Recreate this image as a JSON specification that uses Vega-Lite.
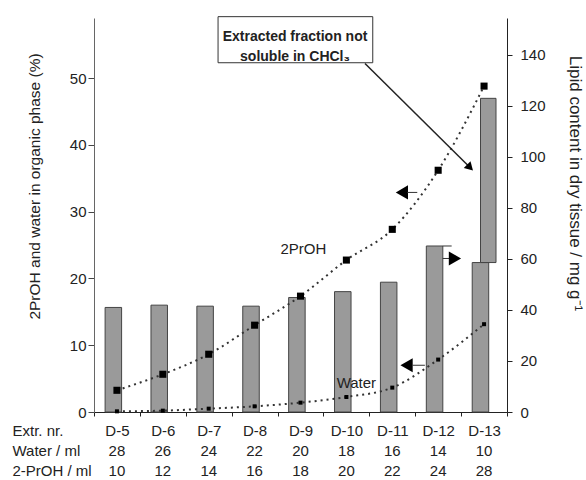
{
  "$schema": "https://vega.github.io/schema/vega-lite/v6.json",
  "width": 413,
  "height": 394,
  "autosize": {"type": "none"},
  "padding": {"left": 94, "top": 18, "right": 79, "bottom": 68},
  "config": {
    "font": "Liberation Sans",
    "view": {"stroke": null},
    "axis": {"grid": false, "labelColor": "#222", "titleColor": "#222", "labelFont": "Liberation Sans", "titleFont": "Liberation Sans"}
  },
  "data": {
    "values": [
      {"ext": "D-5", "water_ml": 28, "proh_ml": 10, "lipid": 41.0, "lipid_total": null, "proh_pct": 3.25, "water_pct": 0.1},
      {"ext": "D-6", "water_ml": 26, "proh_ml": 12, "lipid": 41.9, "lipid_total": null, "proh_pct": 5.65, "water_pct": 0.2},
      {"ext": "D-7", "water_ml": 24, "proh_ml": 14, "lipid": 41.5, "lipid_total": null, "proh_pct": 8.65, "water_pct": 0.5},
      {"ext": "D-8", "water_ml": 22, "proh_ml": 16, "lipid": 41.5, "lipid_total": null, "proh_pct": 13.0, "water_pct": 0.85},
      {"ext": "D-9", "water_ml": 20, "proh_ml": 18, "lipid": 44.9, "lipid_total": null, "proh_pct": 17.35, "water_pct": 1.4},
      {"ext": "D-10", "water_ml": 18, "proh_ml": 20, "lipid": 47.2, "lipid_total": null, "proh_pct": 22.75, "water_pct": 2.25},
      {"ext": "D-11", "water_ml": 16, "proh_ml": 22, "lipid": 50.9, "lipid_total": null, "proh_pct": 27.35, "water_pct": 3.65},
      {"ext": "D-12", "water_ml": 14, "proh_ml": 24, "lipid": 65.1, "lipid_total": null, "proh_pct": 36.2, "water_pct": 7.85},
      {"ext": "D-13", "water_ml": 10, "proh_ml": 28, "lipid": 58.6, "lipid_total": 123.0, "proh_pct": 48.8, "water_pct": 13.15}
    ]
  },
  "layer": [
    {
      "mark": {"type": "bar", "width": 16.5, "xOffset": -3.6, "fill": "#9a9a9a", "stroke": "#444", "strokeWidth": 1},
      "encoding": {
        "x": {
          "field": "ext", "type": "nominal", "sort": null,
          "scale": {"type": "band", "paddingInner": 0, "paddingOuter": 0, "domain": ["D-5", "D-6", "D-7", "D-8", "D-9", "D-10", "D-11", "D-12", "D-13"]},
          "axis": {
            "orient": "bottom",
            "title": "Extr. nr.", "titleX": -82, "titleY": 18, "titleAlign": "left", "titleBaseline": "middle",
            "titleAngle": 0, "titleFontWeight": "normal", "titleFontSize": 15,
            "labelAngle": 0, "labelBaseline": "middle", "labelPadding": 14, "labelFontSize": 15,
            "tickSize": 4, "tickBand": "extent", "domainColor": "#222", "tickColor": "#222"
          }
        },
        "y": {
          "field": "lipid", "type": "quantitative",
          "scale": {"domain": [0, 154.5], "nice": false},
          "axis": {
            "orient": "right", "values": [0, 20, 40, 60, 80, 100, 120, 140],
            "title": "Lipid content in dry tissue / mg g⁻¹", "titleFontSize": 17, "titleFontWeight": "normal",
            "titleX": 67, "titleY": 165, "titleAngle": 90, "titleAlign": "center", "titleBaseline": "middle",
            "labelFontSize": 15, "labelPadding": 8, "tickSize": 5, "domainColor": "#222", "tickColor": "#222"
          }
        }
      }
    },
    {
      "transform": [{"filter": "datum.lipid_total != null"}],
      "mark": {"type": "bar", "width": 15.5, "xOffset": 4.2, "fill": "#9a9a9a", "stroke": "#444", "strokeWidth": 1},
      "encoding": {
        "x": {"field": "ext", "type": "nominal", "sort": null, "axis": null, "scale": {"type": "band", "paddingInner": 0, "paddingOuter": 0, "domain": ["D-5", "D-6", "D-7", "D-8", "D-9", "D-10", "D-11", "D-12", "D-13"]}},
        "y": {"field": "lipid", "type": "quantitative", "scale": {"domain": [0, 154.5], "nice": false}, "axis": null},
        "y2": {"field": "lipid_total"}
      }
    },
    {
      "data": {"values": [{}]},
      "mark": {"type": "rule", "xOffset": 4.5, "x2Offset": 13.5, "stroke": "#333", "strokeWidth": 1},
      "encoding": {
        "x": {"datum": "D-12", "axis": null, "scale": {"type": "band", "paddingInner": 0, "paddingOuter": 0, "domain": ["D-5", "D-6", "D-7", "D-8", "D-9", "D-10", "D-11", "D-12", "D-13"]}},
        "x2": {"datum": "D-12"},
        "y": {"datum": 65.1, "type": "quantitative", "scale": {"domain": [0, 154.5], "nice": false}, "axis": null}
      }
    },
    {
      "data": {"values": [{}]},
      "mark": {"type": "rule", "xOffset": 4.5, "x2Offset": 11, "stroke": "#333", "strokeWidth": 1},
      "encoding": {
        "x": {"datum": "D-12", "axis": null, "scale": {"type": "band", "paddingInner": 0, "paddingOuter": 0, "domain": ["D-5", "D-6", "D-7", "D-8", "D-9", "D-10", "D-11", "D-12", "D-13"]}},
        "x2": {"datum": "D-12"},
        "y": {"datum": 60.2, "type": "quantitative", "scale": {"domain": [0, 154.5], "nice": false}, "axis": null}
      }
    },
    {
      "data": {"values": [{}]},
      "mark": {"type": "point", "shape": "triangle-right", "filled": true, "size": 200, "xOffset": 16.8, "color": "#000", "opacity": 1},
      "encoding": {
        "x": {"datum": "D-12", "axis": null, "scale": {"type": "band", "paddingInner": 0, "paddingOuter": 0, "domain": ["D-5", "D-6", "D-7", "D-8", "D-9", "D-10", "D-11", "D-12", "D-13"]}},
        "y": {"datum": 60.2, "type": "quantitative", "scale": {"domain": [0, 154.5], "nice": false}, "axis": null}
      }
    },
    {
      "mark": {"type": "line", "interpolate": "monotone", "strokeDash": [2, 4], "strokeWidth": 2, "color": "#333"},
      "encoding": {
        "x": {"field": "ext", "type": "nominal", "sort": null, "axis": null, "scale": {"type": "band", "paddingInner": 0, "paddingOuter": 0, "domain": ["D-5", "D-6", "D-7", "D-8", "D-9", "D-10", "D-11", "D-12", "D-13"]}},
        "y": {
          "field": "proh_pct", "type": "quantitative",
          "scale": {"domain": [0, 59], "nice": false},
          "axis": {
            "orient": "left", "values": [0, 10, 20, 30, 40, 50],
            "title": "2PrOH and water in organic phase (%)", "titleFontSize": 15.5, "titleFontWeight": "normal",
            "titleX": -60, "titleY": 168, "titleAngle": -90, "titleAlign": "center", "titleBaseline": "middle",
            "labelFontSize": 15, "labelPadding": 2, "tickSize": 6, "domainColor": "#666", "tickColor": "#444"
          }
        }
      }
    },
    {
      "mark": {"type": "point", "shape": "square", "filled": true, "size": 50, "color": "#000", "opacity": 1},
      "encoding": {
        "x": {"field": "ext", "type": "nominal", "sort": null, "axis": null, "scale": {"type": "band", "paddingInner": 0, "paddingOuter": 0, "domain": ["D-5", "D-6", "D-7", "D-8", "D-9", "D-10", "D-11", "D-12", "D-13"]}},
        "y": {"field": "proh_pct", "type": "quantitative", "scale": {"domain": [0, 59], "nice": false}, "axis": null}
      }
    },
    {
      "mark": {"type": "line", "interpolate": "monotone", "strokeDash": [2, 4], "strokeWidth": 2, "color": "#333"},
      "encoding": {
        "x": {"field": "ext", "type": "nominal", "sort": null, "axis": null, "scale": {"type": "band", "paddingInner": 0, "paddingOuter": 0, "domain": ["D-5", "D-6", "D-7", "D-8", "D-9", "D-10", "D-11", "D-12", "D-13"]}},
        "y": {"field": "water_pct", "type": "quantitative", "scale": {"domain": [0, 59], "nice": false}, "axis": null}
      }
    },
    {
      "mark": {"type": "point", "shape": "square", "filled": true, "size": 16, "color": "#000", "opacity": 1},
      "encoding": {
        "x": {"field": "ext", "type": "nominal", "sort": null, "axis": null, "scale": {"type": "band", "paddingInner": 0, "paddingOuter": 0, "domain": ["D-5", "D-6", "D-7", "D-8", "D-9", "D-10", "D-11", "D-12", "D-13"]}},
        "y": {"field": "water_pct", "type": "quantitative", "scale": {"domain": [0, 59], "nice": false}, "axis": null}
      }
    },
    {
      "data": {"values": [{"label": "2PrOH", "at": "D-9", "v": 24.4}]},
      "mark": {"type": "text", "fontSize": 15, "xOffset": 2.8, "color": "#222", "baseline": "middle", "align": "center"},
      "encoding": {
        "x": {"field": "at", "type": "nominal", "axis": null, "scale": {"type": "band", "paddingInner": 0, "paddingOuter": 0, "domain": ["D-5", "D-6", "D-7", "D-8", "D-9", "D-10", "D-11", "D-12", "D-13"]}},
        "y": {"field": "v", "type": "quantitative", "scale": {"domain": [0, 59], "nice": false}, "axis": null},
        "text": {"field": "label"}
      }
    },
    {
      "data": {"values": [{"label": "Water", "at": "D-10", "v": 4.38}]},
      "mark": {"type": "text", "fontSize": 15, "xOffset": 10, "color": "#222", "baseline": "middle", "align": "center"},
      "encoding": {
        "x": {"field": "at", "type": "nominal", "axis": null, "scale": {"type": "band", "paddingInner": 0, "paddingOuter": 0, "domain": ["D-5", "D-6", "D-7", "D-8", "D-9", "D-10", "D-11", "D-12", "D-13"]}},
        "y": {"field": "v", "type": "quantitative", "scale": {"domain": [0, 59], "nice": false}, "axis": null},
        "text": {"field": "label"}
      }
    },
    {
      "data": {"values": [{}]},
      "mark": {"type": "point", "shape": "triangle-left", "filled": true, "size": 200, "xOffset": 9.6, "color": "#000", "opacity": 1},
      "encoding": {
        "x": {"datum": "D-11", "axis": null, "scale": {"type": "band", "paddingInner": 0, "paddingOuter": 0, "domain": ["D-5", "D-6", "D-7", "D-8", "D-9", "D-10", "D-11", "D-12", "D-13"]}},
        "y": {"datum": 32.88, "type": "quantitative", "scale": {"domain": [0, 59], "nice": false}, "axis": null}
      }
    },
    {
      "data": {"values": [{}]},
      "mark": {"type": "rule", "xOffset": 15, "x2Offset": 25, "stroke": "#333", "strokeWidth": 1},
      "encoding": {
        "x": {"datum": "D-11", "axis": null, "scale": {"type": "band", "paddingInner": 0, "paddingOuter": 0, "domain": ["D-5", "D-6", "D-7", "D-8", "D-9", "D-10", "D-11", "D-12", "D-13"]}},
        "x2": {"datum": "D-11"},
        "y": {"datum": 32.88, "type": "quantitative", "scale": {"domain": [0, 59], "nice": false}, "axis": null}
      }
    },
    {
      "data": {"values": [{}]},
      "mark": {"type": "point", "shape": "triangle-left", "filled": true, "size": 200, "xOffset": 14.3, "color": "#000", "opacity": 1},
      "encoding": {
        "x": {"datum": "D-11", "axis": null, "scale": {"type": "band", "paddingInner": 0, "paddingOuter": 0, "domain": ["D-5", "D-6", "D-7", "D-8", "D-9", "D-10", "D-11", "D-12", "D-13"]}},
        "y": {"datum": 7.0, "type": "quantitative", "scale": {"domain": [0, 59], "nice": false}, "axis": null}
      }
    },
    {
      "data": {"values": [{}]},
      "mark": {"type": "rule", "xOffset": 20, "x2Offset": 32.6, "stroke": "#333", "strokeWidth": 1},
      "encoding": {
        "x": {"datum": "D-11", "axis": null, "scale": {"type": "band", "paddingInner": 0, "paddingOuter": 0, "domain": ["D-5", "D-6", "D-7", "D-8", "D-9", "D-10", "D-11", "D-12", "D-13"]}},
        "x2": {"datum": "D-11"},
        "y": {"datum": 7.0, "type": "quantitative", "scale": {"domain": [0, 59], "nice": false}, "axis": null}
      }
    },
    {
      "data": {"values": [{}]},
      "mark": {"type": "bar", "width": 154.7, "xOffset": -5.1, "fill": "#fff", "stroke": "#333", "strokeWidth": 1},
      "encoding": {
        "x": {"datum": "D-9", "axis": null, "scale": {"type": "band", "paddingInner": 0, "paddingOuter": 0, "domain": ["D-5", "D-6", "D-7", "D-8", "D-9", "D-10", "D-11", "D-12", "D-13"]}},
        "y": {"datum": 59.2, "type": "quantitative", "scale": {"domain": [0, 59], "nice": false}, "axis": null},
        "y2": {"datum": 52.3}
      }
    },
    {
      "data": {"values": [{"lines": ["Extracted fraction not", "soluble in CHCl₃"]}]},
      "mark": {"type": "text", "fontSize": 14, "fontWeight": "bold", "lineHeight": 19.5, "xOffset": -5.5, "align": "center", "baseline": "middle", "color": "#222"},
      "encoding": {
        "x": {"datum": "D-9", "axis": null, "scale": {"type": "band", "paddingInner": 0, "paddingOuter": 0, "domain": ["D-5", "D-6", "D-7", "D-8", "D-9", "D-10", "D-11", "D-12", "D-13"]}},
        "y": {"datum": 56.08, "type": "quantitative", "scale": {"domain": [0, 59], "nice": false}, "axis": null},
        "text": {"field": "lines"}
      }
    },
    {
      "data": {"values": [{}]},
      "mark": {"type": "rule", "xOffset": 18.6, "x2Offset": -14, "stroke": "#222", "strokeWidth": 1.5},
      "encoding": {
        "x": {"datum": "D-10", "axis": null, "scale": {"type": "band", "paddingInner": 0, "paddingOuter": 0, "domain": ["D-5", "D-6", "D-7", "D-8", "D-9", "D-10", "D-11", "D-12", "D-13"]}},
        "x2": {"datum": "D-13"},
        "y": {"datum": 52.2, "type": "quantitative", "scale": {"domain": [0, 59], "nice": false}, "axis": null},
        "y2": {"datum": 36.6}
      }
    },
    {
      "data": {"values": [{}]},
      "mark": {"type": "point", "shape": "triangle-up", "angle": 135, "filled": true, "size": 90, "xOffset": -14, "color": "#000", "opacity": 1},
      "encoding": {
        "x": {"datum": "D-13", "axis": null, "scale": {"type": "band", "paddingInner": 0, "paddingOuter": 0, "domain": ["D-5", "D-6", "D-7", "D-8", "D-9", "D-10", "D-11", "D-12", "D-13"]}},
        "y": {"datum": 36.6, "type": "quantitative", "scale": {"domain": [0, 59], "nice": false}, "axis": null}
      }
    },
    {
      "mark": {"type": "point", "opacity": 0},
      "encoding": {
        "x": {
          "field": "water_ml", "type": "nominal", "sort": null,
          "scale": {"type": "band", "paddingInner": 0, "paddingOuter": 0, "domain": [28, 26, 24, 22, 20, 18, 16, 14, 10]},
          "axis": {
            "orient": "bottom", "offset": 20, "domain": false, "tickOpacity": 0, "tickSize": 4,
            "title": "Water / ml", "titleX": -82, "titleY": 18, "titleAlign": "left", "titleBaseline": "middle",
            "titleAngle": 0, "titleFontWeight": "normal", "titleFontSize": 15,
            "labelAngle": 0, "labelBaseline": "middle", "labelPadding": 14, "labelFontSize": 15
          }
        }
      }
    },
    {
      "mark": {"type": "point", "opacity": 0},
      "encoding": {
        "x": {
          "field": "proh_ml", "type": "nominal", "sort": null,
          "scale": {"type": "band", "paddingInner": 0, "paddingOuter": 0, "domain": [10, 12, 14, 16, 18, 20, 22, 24, 28]},
          "axis": {
            "orient": "bottom", "offset": 40, "domain": false, "tickOpacity": 0, "tickSize": 4,
            "title": "2-PrOH / ml", "titleX": -82, "titleY": 18, "titleAlign": "left", "titleBaseline": "middle",
            "titleAngle": 0, "titleFontWeight": "normal", "titleFontSize": 15,
            "labelAngle": 0, "labelBaseline": "middle", "labelPadding": 14, "labelFontSize": 15
          }
        }
      }
    }
  ],
  "resolve": {"scale": {"x": "independent", "y": "independent"}}
}
